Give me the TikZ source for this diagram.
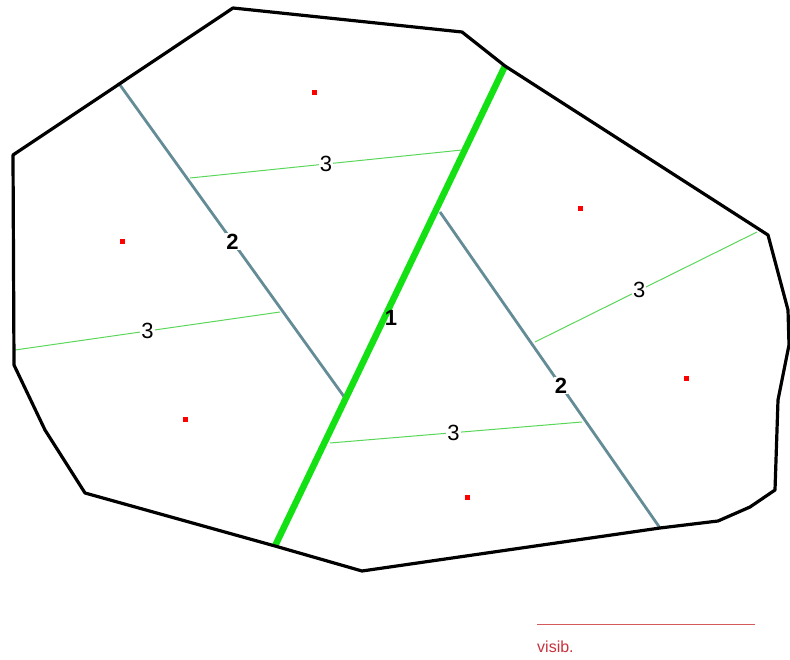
\documentclass[tikz,border=0pt]{standalone}
\usepackage{fontspec}
\setmainfont{Liberation Sans}
\begin{document}
\begin{tikzpicture}[x=1pt,y=-1pt,
  border/.style={line width=3.2pt,black,line join=round},
  main/.style={line width=6.5pt,color={rgb,255:red,20;green,225;blue,20}},
  sec/.style={line width=2.8pt,color={rgb,255:red,100;green,140;blue,150}},
  tert/.style={line width=1pt,color={rgb,255:red,90;green,215;blue,90}},
  lab/.style={fill=white,text=black,inner sep=1pt,font=\fontsize{22}{22}\selectfont},
  blab/.style={lab,font=\fontsize{22}{22}\selectfont\bfseries},
  site/.style={fill=red,draw=none,minimum size=5pt,inner sep=0pt},
]
\useasboundingbox (0,0) rectangle (790,660);
% polygon vertices
\coordinate (p1) at (233,8);
\coordinate (p2) at (462,32);
\coordinate (p3) at (505,66);
\coordinate (p4) at (768,235);
\coordinate (p5) at (788,310);
\coordinate (p6) at (789,345);
\coordinate (p7) at (778,400);
\coordinate (p8) at (775,490);
\coordinate (p9) at (750,507);
\coordinate (p10) at (718,521);
\coordinate (p11) at (660,528);
\coordinate (p12) at (362,571);
\coordinate (p13) at (275,546);
\coordinate (p14) at (85,493);
\coordinate (p15) at (45,430);
\coordinate (p16) at (14,365);
\coordinate (p17) at (13,155);
% level 3 lines
\coordinate (a1) at (190,178); \coordinate (a2) at (462,150);
\coordinate (b1) at (15,350);  \coordinate (b2) at (280,312);
\coordinate (c1) at (535,342); \coordinate (c2) at (757,232);
\coordinate (d1) at (330,443); \coordinate (d2) at (582,422);
% level 2 lines
\coordinate (g1) at (120,85);  \coordinate (g2) at (345,398);
\coordinate (h1) at (440,212);
\draw[tert] (a1) -- node[lab]{3} (a2);
\draw[tert] (b1) -- node[lab]{3} (b2);
\draw[tert] (c1) -- node[lab,pos=0.47]{3} (c2);
\draw[tert] (d1) -- node[lab,pos=0.49]{3} (d2);
\draw[sec] (g1) -- node[blab,pos=0.5]{2} (g2);
\draw[sec] (h1) -- node[blab,pos=0.55]{2} (p11);
\draw[main] (p3) -- (p13);
\node[inner sep=0pt,text=black,font=\fontsize{22}{22}\selectfont\bfseries] (one) at (391,318) {1};
\draw[border] (p1) -- (p2) -- (p3) -- (p4) -- (p5) -- (p6) -- (p7) -- (p8) -- (p9) -- (p10) -- (p11) -- (p12) -- (p13) -- (p14) -- (p15) -- (p16) -- (p17) -- cycle;
% sites
\node[site] (s1) at (314,93) {};
\node[site] (s2) at (122,242) {};
\node[site] (s3) at (580,209) {};
\node[site] (s4) at (686,378) {};
\node[site] (s5) at (185,419) {};
\node[site] (s6) at (467,497) {};
% legend
\coordinate (l1) at (537,624); \coordinate (l2) at (755,624);
\draw[line width=1pt,color={rgb,255:red,210;green,90;blue,90}] (l1) -- (l2);
\node[anchor=base west,inner sep=0pt,text={rgb,255:red,200;green,50;blue,60},font=\fontsize{16}{16}\selectfont] (vis) at (537,652) {visib.};
\end{tikzpicture}
\end{document}
